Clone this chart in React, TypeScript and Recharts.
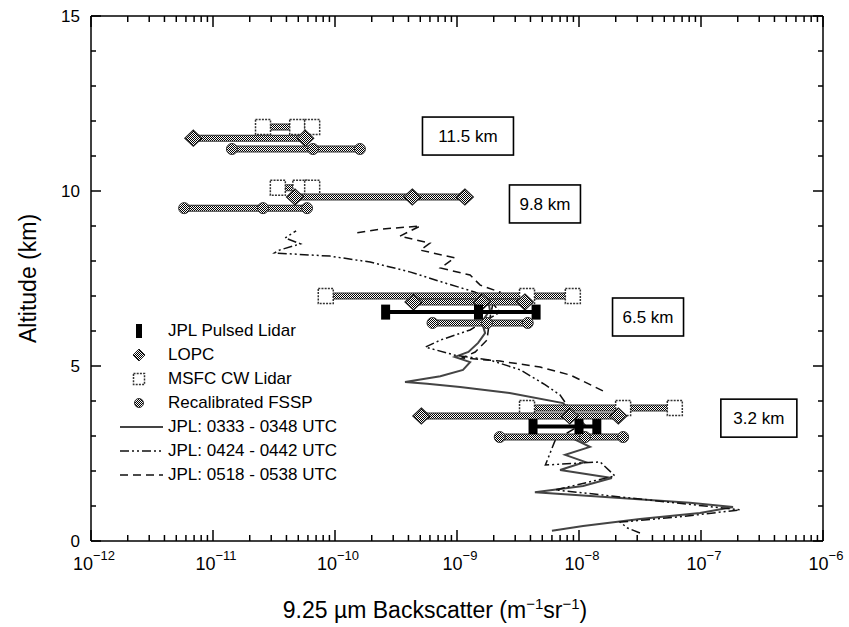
import { ScatterChart, Scatter, XAxis, YAxis, ReferenceDot } from "recharts";

const FONT = '"Liberation Sans", Arial, Helvetica, sans-serif';

// axis ticks
const decadeExponents = [-12, -11, -10, -9, -8, -7, -6];
const minorMultiples = [1, 2, 3, 4, 5, 6, 7, 8, 9];
const altitudeTicks = [0, 1, 2, 3, 4, 5, 6, 7, 8, 9, 10, 11, 12, 13, 14, 15];
const altitudeLabels = [0, 5, 10, 15];

// instrument bars: altitude (km) and backscatter values (low / mid / high)
const msfcCwLidar = [
  { alt: 11.83, values: [2.57e-11, 4.9e-11, 6.5e-11] },
  { alt: 10.09, values: [3.4e-11, 5.2e-11, 6.5e-11] },
  { alt: 7.0, values: [8.4e-11, 3.75e-9, 8.9e-9] },
  { alt: 3.8, values: [3.75e-9, 2.3e-8, 6.1e-8] },
];
const lopc = [
  { alt: 11.51, values: [6.9e-12, 5.7e-11] },
  { alt: 9.83, values: [4.7e-11, 4.3e-10, 1.16e-9] },
  { alt: 6.83, values: [4.4e-10, 1.6e-9, 3.6e-9] },
  { alt: 3.57, values: [5.1e-10, 8.4e-9, 2.1e-8] },
];
const recalibratedFssp = [
  { alt: 11.2, values: [1.43e-11, 6.6e-11, 1.6e-10] },
  { alt: 9.51, values: [5.8e-12, 2.57e-11, 5.9e-11] },
  { alt: 6.23, values: [6.3e-10, 1.76e-9, 3.8e-9] },
  { alt: 2.97, values: [2.24e-9, 1.12e-8, 2.3e-8] },
];
const jplPulsedLidar = [
  { alt: 6.54, values: [2.6e-10, 1.5e-9, 4.45e-9] },
  { alt: 3.27, values: [4.2e-9, 1.0e-8, 1.4e-8] },
];

// JPL profiles: [backscatter, altitude km]
const jpl0333 = [
  [6.0e-9, 0.29], [1.08e-8, 0.43], [3.16e-8, 0.63], [9.8e-8, 0.8], [1.83e-7, 0.97],
  [8.1e-8, 1.09], [2.17e-8, 1.23], [4.35e-9, 1.39], [1.08e-8, 1.57], [1.86e-8, 1.8],
  [7.0e-9, 2.03], [1.12e-8, 2.26], [7.7e-9, 2.46], [1.23e-8, 2.69], [8.8e-9, 2.94],
  [1.12e-8, 3.31], [9.3e-9, 3.6], [7.4e-9, 3.94], [2.7e-9, 4.23], [1.06e-9, 4.4],
  [5.7e-10, 4.49], [3.75e-10, 4.54], [7.3e-10, 4.71], [1.12e-9, 4.89], [1.28e-9, 5.11],
  [9.6e-10, 5.26], [1.24e-9, 5.4], [1.49e-9, 5.66], [1.7e-9, 5.94], [1.6e-9, 6.26],
  [1.86e-9, 6.6], [1.8e-9, 6.89],
];
const jpl0424 = [
  [3.16e-8, 0.23], [2.5e-8, 0.37], [2.17e-8, 0.54], [6.7e-8, 0.69], [2.09e-7, 0.89],
  [6.4e-9, 1.46], [1.97e-8, 1.86], [1.49e-8, 2.26], [5.3e-9, 2.17], [6.4e-9, 2.89],
  [1.03e-8, 3.31], [8.5e-9, 3.74], [7.0e-9, 4.17], [5.3e-9, 4.46], [3.3e-9, 4.89],
  [1.86e-9, 5.17], [9.6e-10, 5.31], [5.5e-10, 5.54], [7.3e-10, 5.74], [1.28e-9, 6.03],
  [2.25e-9, 6.54], [1.86e-9, 6.89], [1.41e-9, 7.11], [8.0e-10, 7.37], [4.1e-10, 7.69],
  [1.94e-10, 7.97], [9.1e-11, 8.14], [3.2e-11, 8.23], [3.5e-11, 8.31], [5.2e-11, 8.49],
  [3.9e-11, 8.66], [4.8e-11, 8.86],
];
const jpl0518 = [
  [1.57e-8, 4.29], [8.5e-9, 4.74], [4.8e-9, 4.97], [2.25e-9, 5.14], [1.1e-9, 5.23],
  [1.41e-9, 5.4], [1.76e-9, 5.74], [1.86e-9, 6.37], [2.0e-9, 6.89], [2.25e-9, 7.11],
  [1.55e-9, 7.31], [1.28e-9, 7.6], [7.3e-10, 7.8], [9.6e-10, 8.09], [5.0e-10, 8.31],
  [6.0e-10, 8.51], [3.4e-10, 8.71], [5.0e-10, 9.0], [2.34e-10, 8.91], [1.46e-10, 8.8],
];

// boxed altitude notes: backscatter / altitude of the box centre
const altitudeNotes = [
  { text: "11.5 km", x: 1.23e-9, y: 11.57 },
  { text: "9.8 km", x: 5.26e-9, y: 9.63 },
  { text: "6.5 km", x: 3.68e-8, y: 6.4 },
  { text: "3.2 km", x: 2.98e-7, y: 3.51 },
];
const noteBoxWidths = [91, 71, 71, 76];

const X_MIN = 1e-12;
const X_MAX = 1e-6;
const Y_MIN = 0;
const Y_MAX = 15;

// chart box and plot area size
const W = 849;
const H = 627;
const MARGIN = { top: 6, right: 16, bottom: 46, left: 41 };
const LEFT_AXIS_W = 50;
const RIGHT_AXIS_W = 10;
const TOP_AXIS_H = 10;
const BOTTOM_AXIS_H = 40;
const PLOT_LEFT = MARGIN.left + LEFT_AXIS_W;
const PLOT_TOP = MARGIN.top + TOP_AXIS_H;
const PLOT_W = W - MARGIN.left - MARGIN.right - LEFT_AXIS_W - RIGHT_AXIS_W;
const PLOT_H = H - MARGIN.top - MARGIN.bottom - TOP_AXIS_H - BOTTOM_AXIS_H;
const PLOT_RIGHT = PLOT_LEFT + PLOT_W;
const PLOT_BOTTOM = PLOT_TOP + PLOT_H;

// same mapping as the chart's log x scale and linear y scale
const xPx = (v: number) => PLOT_LEFT + (Math.log10(v / X_MIN) / Math.log10(X_MAX / X_MIN)) * PLOT_W;
const yPx = (v: number) => PLOT_BOTTOM - ((v - Y_MIN) / (Y_MAX - Y_MIN)) * PLOT_H;

const xTicks = decadeExponents.flatMap((e) =>
  e === -6 ? [Number(`1e${e}`)] : minorMultiples.map((m) => Number(`${m}e${e}`))
);

const isDecade = (v: number) => {
  const l = Math.log10(v);
  return Math.abs(l - Math.round(l)) < 1e-6;
};

const xTickLen = (v: number) => (isDecade(v) ? 11 : 6);
const yTickLen = (v: number) => (altitudeLabels.includes(v) ? 10 : 5);

const toPoints = (alt: number, values: number[]) => values.map((x) => ({ x, y: alt }));
const profilePoints = (rows: number[][]) => rows.map(([x, y]) => ({ x, y }));

const renderBottomLabel = (props: any) => {
  const x = Number(props.x);
  const y = Number(props.y);
  const exp = Math.round(Math.log10(props.payload.value));
  return (
    <text x={x + 3} y={y + 29} textAnchor="middle" fontSize={18} fontFamily={FONT} fill="#000">
      10
      <tspan dy={-10} fontSize={13}>{`\u2212${-exp}`}</tspan>
    </text>
  );
};

const renderLeftLabel = (props: any) => (
  <text x={Number(props.x) - 11} y={Number(props.y) + 6} textAnchor="end" fontSize={17} fontFamily={FONT} fill="#000">
    {props.payload.value}
  </text>
);

const XTitle = ({ viewBox }: any) => (
  <text x={viewBox.x + 344} y={viewBox.y + 77} textAnchor="middle" fontSize={23} fontFamily={FONT} fill="#000">
    9.25 µm Backscatter (m
    <tspan dy={-9} fontSize={15}>{"\u22121"}</tspan>
    <tspan dy={9}>sr</tspan>
    <tspan dy={-9} fontSize={15}>{"\u22121"}</tspan>
    <tspan dy={9}>)</tspan>
  </text>
);

const YTitle = ({ viewBox }: any) => {
  const cx = viewBox.x - 13;
  const cy = viewBox.y + viewBox.height / 2;
  return (
    <text
      x={cx}
      y={cy}
      transform={`rotate(-90 ${cx} ${cy})`}
      textAnchor="middle"
      dominantBaseline="central"
      fontSize={23}
      fontFamily={FONT}
      fill="#000"
    >
      Altitude (km)
    </text>
  );
};

const noMarker = () => <g />;

const diamond = ({ cx, cy }: any) => (
  <polygon
    points={`${cx},${cy - 8} ${cx + 8.5},${cy} ${cx},${cy + 8} ${cx - 8.5},${cy}`}
    fill="url(#halftone)"
    stroke="#222"
    strokeWidth={1.2}
  />
);
const square = ({ cx, cy }: any) => (
  <rect x={cx - 7.5} y={cy - 7.5} width={15} height={15} fill="#fff" stroke="#333" strokeWidth={1.5} strokeDasharray="2 1.2" />
);
const dot = ({ cx, cy }: any) => <circle cx={cx} cy={cy} r={5.5} fill="url(#halftone)" stroke="#333" strokeWidth={1} />;
const pulseCap = ({ cx, cy }: any) => <rect x={cx - 4.5} y={cy - 7.5} width={9} height={15} fill="#000" />;

const barEdge = { stroke: "#333", strokeWidth: 7 };
const barFill = { stroke: "url(#halftone)", strokeWidth: 5 };

const stippledBars = (groups: { alt: number; values: number[] }[], name: string, marker: any) =>
  groups.flatMap((g, i) => [
    <Scatter key={`${name}-edge-${i}`} data={toPoints(g.alt, g.values)} line={barEdge} shape={noMarker} isAnimationActive={false} />,
    <Scatter key={`${name}-${i}`} data={toPoints(g.alt, g.values)} line={barFill} shape={marker} isAnimationActive={false} />,
  ]);

const legendRows = [
  { label: "JPL Pulsed Lidar", icon: "pulse" },
  { label: "LOPC", icon: "diamond" },
  { label: "MSFC CW Lidar", icon: "square" },
  { label: "Recalibrated FSSP", icon: "dot" },
  { label: "JPL: 0333 - 0348 UTC", icon: "solid" },
  { label: "JPL: 0424 - 0442 UTC", icon: "dashdot" },
  { label: "JPL: 0518 - 0538 UTC", icon: "dashed" },
];

const profileSolid = { stroke: "#444", strokeWidth: 2 };
const profileDashDot = { stroke: "#111", strokeWidth: 1.5, strokeDasharray: "9 3 2 3 2 3" };
const profileDashed = { stroke: "#111", strokeWidth: 1.5, strokeDasharray: "8 5" };

const LegendIcon = ({ kind }: { kind: string }) => {
  const c = 31;
  const m = 12;
  return (
    <svg width={60} height={24} style={{ display: "block" }}>
      {kind === "pulse" && <rect x={c - 3} y={m - 7} width={6} height={14} fill="#000" />}
      {kind === "diamond" && (
        <polygon points={`${c},${m - 6} ${c + 6},${m} ${c},${m + 6} ${c - 6},${m}`} fill="url(#halftone)" stroke="#222" />
      )}
      {kind === "square" && (
        <rect x={c - 5.5} y={m - 5.5} width={11} height={11} fill="#fff" stroke="#333" strokeWidth={1.5} strokeDasharray="2 1.2" />
      )}
      {kind === "dot" && <circle cx={c} cy={m} r={4.5} fill="url(#halftone)" stroke="#333" />}
      {kind === "solid" && <line x1={12} x2={55} y1={m} y2={m} {...profileSolid} />}
      {kind === "dashdot" && <line x1={12} x2={55} y1={m} y2={m} {...profileDashDot} />}
      {kind === "dashed" && <line x1={12} x2={55} y1={m} y2={m} {...profileDashed} />}
    </svg>
  );
};

// inward tick marks on all four sides of the frame
const FrameTicks = () => (
  <svg width={W} height={H} style={{ position: "absolute", left: 0, top: 0, pointerEvents: "none" }}>
    <g stroke="#000" strokeWidth={1.5}>
      {xTicks.map((v) => (
        <g key={`x-${v}`}>
          <line x1={xPx(v)} x2={xPx(v)} y1={PLOT_BOTTOM} y2={PLOT_BOTTOM - xTickLen(v)} />
          <line x1={xPx(v)} x2={xPx(v)} y1={PLOT_TOP} y2={PLOT_TOP + xTickLen(v)} />
        </g>
      ))}
      {altitudeTicks.map((v) => (
        <g key={`y-${v}`}>
          <line x1={PLOT_LEFT} x2={PLOT_LEFT + yTickLen(v)} y1={yPx(v)} y2={yPx(v)} />
          <line x1={PLOT_RIGHT} x2={PLOT_RIGHT - yTickLen(v)} y1={yPx(v)} y2={yPx(v)} />
        </g>
      ))}
    </g>
  </svg>
);

const frameLine = { stroke: "#000", strokeWidth: 1.5 };

export default function App() {
  return (
    <div style={{ position: "absolute", left: 0, top: 0, width: W, height: H, background: "#fff" }}>
      {/* shared halftone fill for the instrument bars and legend symbols */}
      <svg width={0} height={0} style={{ position: "absolute" }}>
        <defs>
          <pattern id="halftone" width="2" height="2" patternUnits="userSpaceOnUse">
            <rect width="2" height="2" fill="#fff" />
            <rect width="1" height="1" fill="#000" />
            <rect x="1" y="1" width="1" height="1" fill="#000" />
          </pattern>
        </defs>
      </svg>

      <ScatterChart width={W} height={H} margin={MARGIN}>
        <XAxis
          dataKey="x"
          type="number"
          scale="log"
          domain={[X_MIN, X_MAX]}
          ticks={decadeExponents.map((e) => Number(`1e${e}`))}
          interval={0}
          height={BOTTOM_AXIS_H}
          tickSize={0}
          tickMargin={0}
          tickLine={false}
          tick={renderBottomLabel}
          axisLine={frameLine}
          label={<XTitle />}
        />
        <XAxis
          xAxisId="top"
          orientation="top"
          dataKey="x"
          type="number"
          scale="log"
          domain={[X_MIN, X_MAX]}
          height={TOP_AXIS_H}
          tick={false}
          tickLine={false}
          axisLine={frameLine}
        />
        <YAxis
          dataKey="y"
          type="number"
          domain={[Y_MIN, Y_MAX]}
          ticks={altitudeLabels}
          interval={0}
          width={LEFT_AXIS_W}
          tickSize={0}
          tickMargin={0}
          tickLine={false}
          tick={renderLeftLabel}
          axisLine={frameLine}
          label={<YTitle />}
        />
        <YAxis
          yAxisId="right"
          orientation="right"
          dataKey="y"
          type="number"
          domain={[Y_MIN, Y_MAX]}
          width={RIGHT_AXIS_W}
          tick={false}
          tickLine={false}
          axisLine={frameLine}
        />

        <Scatter data={profilePoints(jpl0333)} line={profileSolid} shape={noMarker} isAnimationActive={false} />
        <Scatter data={profilePoints(jpl0424)} line={profileDashDot} shape={noMarker} isAnimationActive={false} />
        <Scatter data={profilePoints(jpl0518)} line={profileDashed} shape={noMarker} isAnimationActive={false} />

        {stippledBars(msfcCwLidar, "msfc", square)}
        {stippledBars(lopc, "lopc", diamond)}
        {stippledBars(recalibratedFssp, "fssp", dot)}
        {jplPulsedLidar.map((g, i) => (
          <Scatter
            key={`jpl-${i}`}
            data={toPoints(g.alt, g.values)}
            line={{ stroke: "#000", strokeWidth: 4 }}
            shape={pulseCap}
            isAnimationActive={false}
          />
        ))}

        {altitudeNotes.map((n, i) => (
          <ReferenceDot
            key={n.text}
            x={n.x}
            y={n.y}
            r={0}
            shape={({ cx, cy }: any) => (
              <g>
                <rect
                  x={cx - noteBoxWidths[i] / 2}
                  y={cy - 19}
                  width={noteBoxWidths[i]}
                  height={38}
                  fill="#fff"
                  stroke="#000"
                  strokeWidth={1.6}
                />
                <text x={cx} y={cy + 6} textAnchor="middle" fontSize={17} fontFamily={FONT} fill="#000">
                  {n.text}
                </text>
              </g>
            )}
          />
        ))}
      </ScatterChart>

      <FrameTicks />

      <div style={{ position: "absolute", left: 108, top: 319, fontFamily: FONT, fontSize: 17, color: "#000" }}>
        {legendRows.map((r) => (
          <div key={r.label} style={{ display: "flex", alignItems: "center", height: 24, whiteSpace: "nowrap" }}>
            <LegendIcon kind={r.icon} />
            <span>{r.label}</span>
          </div>
        ))}
      </div>
    </div>
  );
}
